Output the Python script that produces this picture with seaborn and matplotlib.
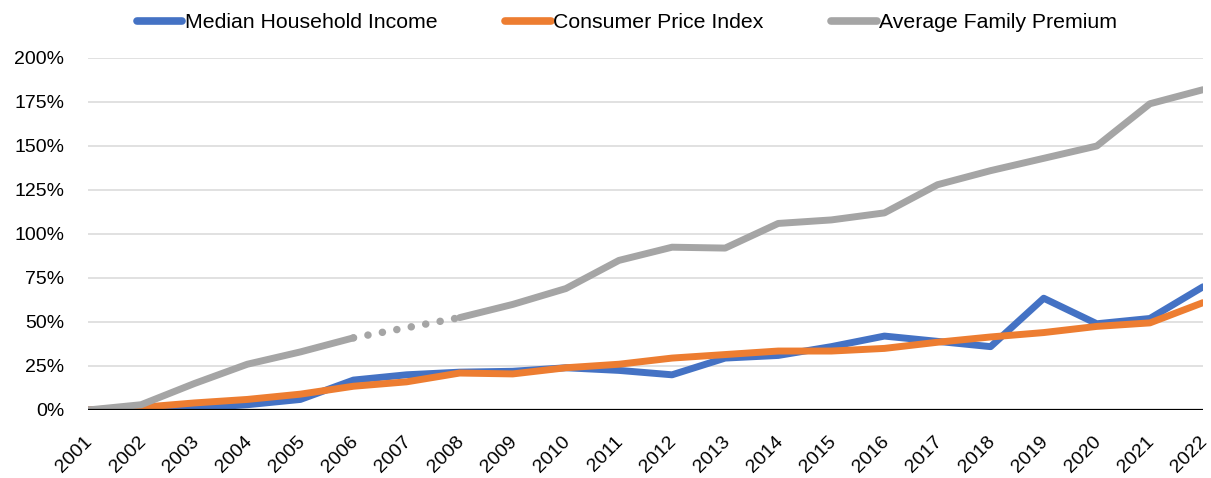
import numpy as np
import pandas as pd
import matplotlib
matplotlib.use('Agg')
import matplotlib.pyplot as plt
import matplotlib.transforms as mtransforms
import seaborn as sns
from matplotlib.lines import Line2D
from matplotlib.ticker import PercentFormatter

years = list(range(2001, 2023))
income = [0, 0, 1, 3, 6, 17, 20, 21.5, 22, 24, 22.5, 20, 29.5, 31, 36, 42, 39, 36, 63.5, 49, 52, 70]
cpi = [0, 1.5, 4, 6, 9, 13.5, 16, 21, 20.5, 24, 26, 29.5, 31.5, 33.5, 33.5, 35, 38.5, 41.5, 44, 47.5, 49.5, 61]
premium = [0, 3, 15, 26, 33, 41, np.nan, 52.5, 60, 69, 85, 92.5, 92, 106, 108, 112, 128, 136, 143, 150, 174, 182]

labels = ['Median Household Income', 'Consumer Price Index', 'Average Family Premium']
colors = ['#4472C4', '#ED7D31', '#A5A5A5']

df = pd.DataFrame({'year': years, 'income': income, 'cpi': cpi, 'premium': premium})

sns.set_style('white')
plt.rcParams['font.family'] = ['Liberation Sans', 'DejaVu Sans']
plt.rcParams['text.color'] = 'black'

fig = plt.figure(figsize=(12.11, 4.78), dpi=100)
ax = fig.add_axes([88 / 1211, 68 / 478, 1115 / 1211, 352 / 478])

lw = 5.0
sns.lineplot(data=df, x='year', y='income', color=colors[0], lw=lw, ax=ax, zorder=3)
sns.lineplot(data=df, x='year', y='cpi', color=colors[1], lw=lw, ax=ax, zorder=4)

# no premium value for 2007: the gap is bridged with a dotted line
early = df[df['year'] <= 2006]
late = df[df['year'] >= 2008]
gap = df[(df['year'] >= 2006) & (df['year'] <= 2008)].dropna()
sns.lineplot(data=early, x='year', y='premium', color=colors[2], lw=lw, ax=ax, zorder=5)
sns.lineplot(data=late, x='year', y='premium', color=colors[2], lw=lw, ax=ax, zorder=5)
ax.plot(gap['year'], gap['premium'], color=colors[2], lw=lw + 0.4, ls=(0, (0.01, 1.95)),
        dash_capstyle='round', zorder=5)

ax.set_xlim(2001, 2022)
ax.set_ylim(0, 200)
ax.set_yticks(range(0, 201, 25))
ax.yaxis.set_major_formatter(PercentFormatter(decimals=0))
ax.set_xticks(years)
ax.set_xticklabels([str(y) for y in years], rotation=45, ha='right', va='center',
                   rotation_mode='anchor')
ax.tick_params(axis='both', length=0, labelsize=14, colors='black')
ax.tick_params(axis='x', pad=21)
ax.tick_params(axis='y', pad=17)
shift = mtransforms.ScaledTranslation(2 / 100, 0, fig.dpi_scale_trans)
for lab in ax.get_xticklabels():
    lab.set_transform(lab.get_transform() + shift)
ax.grid(axis='y', color='#D9D9D9', lw=1.1)
ax.axhline(0, color='black', lw=1.6, zorder=6)
ax.set_xlabel('')
ax.set_ylabel('')
for s in ax.spines.values():
    s.set_visible(False)

handles = [Line2D([0], [0], color=c, lw=lw + 0.5, solid_capstyle='round') for c in colors]
fig.legend(handles, labels, loc='center', bbox_to_anchor=(627 / 1211, 1 - 23 / 478), ncol=3,
           frameon=False, fontsize=15.3, handlelength=2.15, handletextpad=0.1,
           columnspacing=3.2, labelcolor='black')

fig.savefig('out.png', dpi=100)
